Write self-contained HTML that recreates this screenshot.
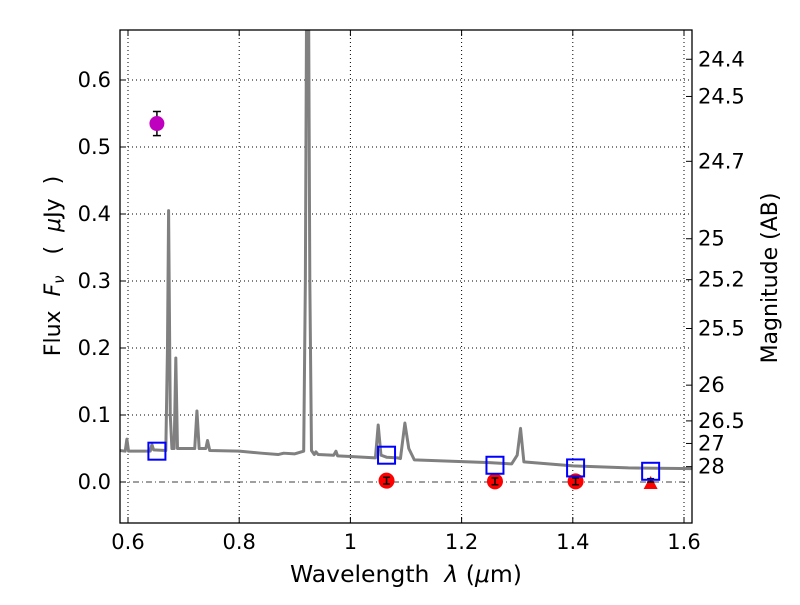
<!DOCTYPE html>
<html><head><meta charset="utf-8"><style>
body{margin:0;background:#fff}
svg text{font-family:"DejaVu Sans","Liberation Sans",sans-serif;fill:#000}
</style></head><body>
<svg id="c" width="800" height="600" xmlns="http://www.w3.org/2000/svg"></svg>
<script>
const specWave=[0.585,0.595,0.598,0.601,0.64,0.643,0.646,0.668,0.671,0.673,0.676,0.679,0.683,0.686,0.689,0.72,0.724,0.728,0.74,0.743,0.747,0.8,0.84,0.87,0.88,0.9,0.916,0.919,0.921,0.925,0.927,0.93,0.935,0.938,0.942,0.97,0.974,0.977,1.0,1.045,1.05,1.055,1.065,1.085,1.09,1.098,1.105,1.115,1.25,1.29,1.3,1.306,1.312,1.4,1.5,1.614];
const specFlux=[0.047,0.046,0.064,0.046,0.046,0.056,0.048,0.047,0.2,0.405,0.1,0.05,0.05,0.185,0.05,0.05,0.106,0.05,0.05,0.062,0.047,0.046,0.043,0.041,0.043,0.042,0.046,0.3,0.68,0.68,0.3,0.047,0.041,0.045,0.041,0.04,0.046,0.039,0.038,0.036,0.085,0.04,0.037,0.036,0.035,0.088,0.05,0.033,0.029,0.027,0.04,0.08,0.03,0.024,0.021,0.02];
const modelWave=[0.652,1.065,1.26,1.405,1.54];
const modelFlux=[0.046,0.04,0.025,0.021,0.016];
const obsWave=[1.065,1.26,1.405];
const obsFlux=[0.002,0.001,0.001];
const obsErr=[0.005,0.005,0.005];
const limWave=[1.54];const limFlux=[0.0];
const magPtWave=[0.652];const magPtFlux=[0.535];const magPtErr=[0.018];
const xTicks=[0.6,0.8,1.0,1.2,1.4,1.6];
const xTickLabels=["0.6","0.8","1","1.2","1.4","1.6"];
const yTicks=[0,0.1,0.2,0.3,0.4,0.5,0.6];
const yTickLabels=["0.0","0.1","0.2","0.3","0.4","0.5","0.6"];
const magTicks=[24.4,24.5,24.7,25,25.2,25.5,26,26.5,27,28];
const magTickLabels=["24.4","24.5","24.7","25","25.2","25.5","26","26.5","27","28"];

const L=120,R=692,T=30,B=523;
const X=w=>128+(w-0.6)*556;
const Y=f=>482-f*670;
const svg=document.getElementById('c');
const NS='http://www.w3.org/2000/svg';
function mk(tag,at,parent){const e=document.createElementNS(NS,tag);for(const k in at)e.setAttribute(k,at[k]);(parent||svg).appendChild(e);return e;}
const defs=mk('defs',{});const cp=mk('clipPath',{id:'clip'},defs);mk('rect',{x:L,y:T,width:R-L,height:B-T},cp);
const g=mk('g',{'clip-path':'url(#clip)'});
xTicks.forEach(t=>{const e=mk('line',{x1:X(t),x2:X(t),y1:T,y2:B,stroke:'#000','stroke-width':1,'stroke-dasharray':'1,3'},g);

});
yTicks.forEach(t=>{if(t===0)return;const e=mk('line',{x1:L,x2:R,y1:Y(t),y2:Y(t),stroke:'#000','stroke-width':1,'stroke-dasharray':'1,3'},g);

});
const zl=mk('line',{x1:L,x2:R,y1:Y(0),y2:Y(0),stroke:'#000','stroke-width':0.8,'stroke-dasharray':'6,3,1,3'},g);


const sp=mk('polyline',{points:specWave.map((w,i)=>X(w)+','+Y(specFlux[i])).join(' '),fill:'none',stroke:'#808080','stroke-width':3,'stroke-linejoin':'round'},g);


magPtWave.forEach((w,i)=>{
const e=mk('line',{x1:X(w),x2:X(w),y1:Y(magPtFlux[i]+magPtErr[i]),y2:Y(magPtFlux[i]-magPtErr[i]),stroke:'#000','stroke-width':1.5},g);


[1,-1].forEach(s=>{const c=mk('line',{x1:X(w)-4,x2:X(w)+4,y1:Y(magPtFlux[i]+s*magPtErr[i]),y2:Y(magPtFlux[i]+s*magPtErr[i]),stroke:'#000','stroke-width':1.5},g);

});
const p=mk('circle',{cx:X(w),cy:Y(magPtFlux[i]),r:7.5,fill:'#bf00bf'},g);

});
obsWave.forEach((w,i)=>{
const p=mk('circle',{cx:X(w),cy:Y(obsFlux[i]),r:8,fill:'#ff0000'},g);


const e=mk('line',{x1:X(w),x2:X(w),y1:Y(obsFlux[i]+obsErr[i]),y2:Y(obsFlux[i]-obsErr[i]),stroke:'#000','stroke-width':1.5},g);


[1,-1].forEach(s=>{const c=mk('line',{x1:X(w)-3.5,x2:X(w)+3.5,y1:Y(obsFlux[i]+s*obsErr[i]),y2:Y(obsFlux[i]+s*obsErr[i]),stroke:'#000','stroke-width':1.5},g);

});});
limWave.forEach((w,i)=>{const x=X(w),y=Y(limFlux[i]);
const t=mk('polygon',{points:`${x-7},${y+7} ${x+7},${y+7} ${x},${y-6}`,fill:'#ff0000'},g);


const e=mk('line',{x1:x,x2:x,y1:Y(limFlux[i]+0.005),y2:y,stroke:'#000','stroke-width':1.5},g);


[Y(limFlux[i]+0.005),y].forEach(yy=>{const c=mk('line',{x1:x-3.5,x2:x+3.5,y1:yy,y2:yy,stroke:'#000','stroke-width':1.5},g);

});});
modelWave.forEach((w,i)=>{const s=mk('rect',{x:X(w)-8.5,y:Y(modelFlux[i])-8.5,width:17,height:17,fill:'none',stroke:'#0000ff','stroke-width':2},g);

});
const fr=mk('rect',{x:L,y:T,width:R-L,height:B-T,fill:'none',stroke:'#000','stroke-width':1.3});


xTicks.forEach((t,i)=>{mk('line',{x1:X(t),x2:X(t),y1:B,y2:B-6,stroke:'#000'});mk('line',{x1:X(t),x2:X(t),y1:T,y2:T+6,stroke:'#000'});
const tx=mk('text',{x:X(t),y:B+26,'font-size':21,'text-anchor':'middle'});tx.textContent=xTickLabels[i];

});
yTicks.forEach((t,i)=>{mk('line',{x1:L,x2:L+6,y1:Y(t),y2:Y(t),stroke:'#000'});
const tx=mk('text',{x:L-9,y:Y(t)+7,'font-size':21,'text-anchor':'end'});tx.textContent=yTickLabels[i];

});
magTicks.forEach((m,i)=>{const y=Y(Math.pow(10,(23.9-m)/2.5));mk('line',{x1:R,x2:R-6,y1:y,y2:y,stroke:'#000'});
const tx=mk('text',{x:R+6,y:y+7,'font-size':21});tx.textContent=magTickLabels[i];

});
</script>
<svg width="800" height="600" style="position:absolute;left:0;top:0" xmlns="http://www.w3.org/2000/svg" xml:space="preserve">
<text x="406" y="582" font-size="23.5" text-anchor="middle" font-family="DejaVu Sans, sans-serif" style="white-space:pre">Wavelength  <tspan font-style="italic">λ</tspan> (<tspan font-style="italic">μ</tspan>m)</text>
<text transform="translate(60,266) rotate(-90)" font-size="22" text-anchor="middle" font-family="DejaVu Sans, sans-serif" style="white-space:pre">Flux  <tspan font-style="italic">F</tspan><tspan font-style="italic" font-size="15" dy="4">ν</tspan><tspan dy="-4">   (  </tspan><tspan font-style="italic">μ</tspan>Jy  )</text>
<text transform="translate(777,278) rotate(-90)" font-size="22" text-anchor="middle" font-family="DejaVu Sans, sans-serif">Magnitude (AB)</text>
</svg>
</body></html>
